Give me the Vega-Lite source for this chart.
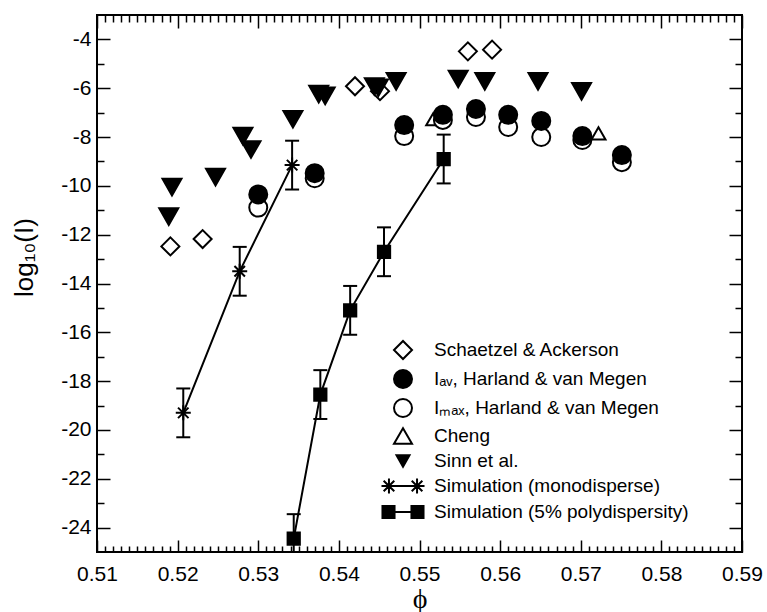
{
  "$schema": "https://vega.github.io/schema/vega-lite/v6.json",
  "autosize": {"type": "none"},
  "width": 645,
  "height": 537,
  "padding": {"left": 97, "top": 15, "right": 25, "bottom": 60},
  "background": "white",
  "config": {
    "view": {"stroke": "black", "strokeWidth": 2},
    "axis": {"domain": false, "grid": false, "tickColor": "black", "tickWidth": 1.5, "zindex": 1, "labelColor": "black", "titleColor": "black", "labelFont": "Liberation Sans", "titleFont": "Liberation Sans", "titleFontWeight": "normal"}
  },
  "datasets": {
    "pts": [
      {"s": "Schaetzel & Ackerson", "phi": 0.5191, "v": -12.48},
      {"s": "Schaetzel & Ackerson", "phi": 0.5231, "v": -12.18},
      {"s": "Schaetzel & Ackerson", "phi": 0.5420, "v": -5.92},
      {"s": "Schaetzel & Ackerson", "phi": 0.5451, "v": -6.12},
      {"s": "Schaetzel & Ackerson", "phi": 0.5560, "v": -4.49},
      {"s": "Schaetzel & Ackerson", "phi": 0.5590, "v": -4.42},
      {"s": "Sinn et al.", "phi": 0.5193, "v": -10.05},
      {"s": "Sinn et al.", "phi": 0.5189, "v": -11.26},
      {"s": "Sinn et al.", "phi": 0.5247, "v": -9.64},
      {"s": "Sinn et al.", "phi": 0.5281, "v": -7.96},
      {"s": "Sinn et al.", "phi": 0.5291, "v": -8.51},
      {"s": "Sinn et al.", "phi": 0.5343, "v": -7.27},
      {"s": "Sinn et al.", "phi": 0.5375, "v": -6.24},
      {"s": "Sinn et al.", "phi": 0.5383, "v": -6.31},
      {"s": "Sinn et al.", "phi": 0.5444, "v": -5.93},
      {"s": "Sinn et al.", "phi": 0.5449, "v": -5.98},
      {"s": "Sinn et al.", "phi": 0.5471, "v": -5.72},
      {"s": "Sinn et al.", "phi": 0.5548, "v": -5.62},
      {"s": "Sinn et al.", "phi": 0.5581, "v": -5.72},
      {"s": "Sinn et al.", "phi": 0.5647, "v": -5.72},
      {"s": "Sinn et al.", "phi": 0.5701, "v": -6.13},
      {"s": "Cheng", "phi": 0.5517, "v": -7.27},
      {"s": "Cheng", "phi": 0.5722, "v": -7.85},
      {"s": "Iₘₐₓ, Harland & van Megen", "phi": 0.5300, "v": -10.89},
      {"s": "Iₘₐₓ, Harland & van Megen", "phi": 0.5370, "v": -9.69},
      {"s": "Iₘₐₓ, Harland & van Megen", "phi": 0.5481, "v": -7.96},
      {"s": "Iₘₐₓ, Harland & van Megen", "phi": 0.5529, "v": -7.30},
      {"s": "Iₘₐₓ, Harland & van Megen", "phi": 0.5570, "v": -7.18},
      {"s": "Iₘₐₓ, Harland & van Megen", "phi": 0.5610, "v": -7.59},
      {"s": "Iₘₐₓ, Harland & van Megen", "phi": 0.5651, "v": -8.00},
      {"s": "Iₘₐₓ, Harland & van Megen", "phi": 0.5702, "v": -8.12},
      {"s": "Iₘₐₓ, Harland & van Megen", "phi": 0.5751, "v": -9.03},
      {"s": "Iₐᵥ, Harland & van Megen", "phi": 0.5300, "v": -10.35},
      {"s": "Iₐᵥ, Harland & van Megen", "phi": 0.5370, "v": -9.48},
      {"s": "Iₐᵥ, Harland & van Megen", "phi": 0.5481, "v": -7.51},
      {"s": "Iₐᵥ, Harland & van Megen", "phi": 0.5529, "v": -7.09},
      {"s": "Iₐᵥ, Harland & van Megen", "phi": 0.5570, "v": -6.85},
      {"s": "Iₐᵥ, Harland & van Megen", "phi": 0.5610, "v": -7.09},
      {"s": "Iₐᵥ, Harland & van Megen", "phi": 0.5651, "v": -7.34},
      {"s": "Iₐᵥ, Harland & van Megen", "phi": 0.5702, "v": -7.96},
      {"s": "Iₐᵥ, Harland & van Megen", "phi": 0.5751, "v": -8.74},
      {"s": "Simulation (monodisperse)", "phi": 0.5207, "v": -19.3, "lo": -20.3, "hi": -18.3},
      {"s": "Simulation (monodisperse)", "phi": 0.5277, "v": -13.5, "lo": -14.5, "hi": -12.5},
      {"s": "Simulation (monodisperse)", "phi": 0.5342, "v": -9.15, "lo": -10.15, "hi": -8.15},
      {"s": "Simulation (5% polydispersity)", "phi": 0.5344, "v": -24.45, "lo": -25.45, "hi": -23.45},
      {"s": "Simulation (5% polydispersity)", "phi": 0.5377, "v": -18.55, "lo": -19.55, "hi": -17.55},
      {"s": "Simulation (5% polydispersity)", "phi": 0.5414, "v": -15.1, "lo": -16.1, "hi": -14.1},
      {"s": "Simulation (5% polydispersity)", "phi": 0.5456, "v": -12.7, "lo": -13.7, "hi": -11.7},
      {"s": "Simulation (5% polydispersity)", "phi": 0.5530, "v": -8.9, "lo": -9.9, "hi": -7.9}
    ]
  },
  "data": {"name": "pts"},
  "layer": [
    {
      "transform": [{"filter": "isValid(datum.lo)"}],
      "mark": {"type": "rule", "color": "black", "strokeWidth": 2},
      "encoding": {
        "x": {"field": "phi", "type": "quantitative", "scale": {"domain": [0.51, 0.59], "nice": false, "zero": false},
          "axis": {"orient": "top", "labels": false, "title": null, "tickSize": 7, "offset": -7,
            "values": [0.511,0.512,0.513,0.514,0.515,0.516,0.517,0.518,0.519,0.521,0.522,0.523,0.524,0.525,0.526,0.527,0.528,0.529,0.531,0.532,0.533,0.534,0.535,0.536,0.537,0.538,0.539,0.541,0.542,0.543,0.544,0.545,0.546,0.547,0.548,0.549,0.551,0.552,0.553,0.554,0.555,0.556,0.557,0.558,0.559,0.561,0.562,0.563,0.564,0.565,0.566,0.567,0.568,0.569,0.571,0.572,0.573,0.574,0.575,0.576,0.577,0.578,0.579,0.581,0.582,0.583,0.584,0.585,0.586,0.587,0.588,0.589]}},
        "y": {"field": "lo", "type": "quantitative", "scale": {"domain": [-25, -3], "nice": false, "zero": false, "clamp": true},
          "axis": {"orient": "right", "labels": false, "title": null, "tickSize": 7, "offset": -7, "values": [-23, -21, -19, -17, -15, -13, -11, -9, -7, -5]}},
        "y2": {"field": "hi"}
      }
    },
    {
      "transform": [{"filter": "isValid(datum.lo) && datum.lo > -25"}],
      "mark": {"type": "tick", "orient": "horizontal", "color": "black", "size": 14, "thickness": 2, "opacity": 1},
      "encoding": {
        "x": {"field": "phi", "type": "quantitative", "axis": null},
        "y": {"field": "lo", "type": "quantitative", "axis": null}
      }
    },
    {
      "transform": [{"filter": "isValid(datum.hi)"}],
      "mark": {"type": "tick", "orient": "horizontal", "color": "black", "size": 14, "thickness": 2, "opacity": 1},
      "encoding": {
        "x": {"field": "phi", "type": "quantitative", "axis": null},
        "y": {"field": "hi", "type": "quantitative", "axis": null}
      }
    },
    {
      "transform": [{"filter": "isValid(datum.lo)"}],
      "mark": {"type": "line", "color": "black", "strokeWidth": 2},
      "encoding": {
        "x": {"field": "phi", "type": "quantitative",
          "axis": {"orient": "bottom", "tickSize": 12, "offset": -12, "values": [0.51, 0.52, 0.53, 0.54, 0.55, 0.56, 0.57, 0.58, 0.59], "format": ".2f",
            "labelFontSize": 21, "labelPadding": 11, "labelFlush": false, "labelOverlap": false,
            "title": "ϕ", "titleFont": "Liberation Serif", "titleFontSize": 28, "titleY": 67, "titleBaseline": "alphabetic"}},
        "y": {"field": "v", "type": "quantitative",
          "axis": {"orient": "left", "tickSize": 13, "offset": -13, "values": [-24, -22, -20, -18, -16, -14, -12, -10, -8, -6, -4],
            "labelExpr": "replace(datum.label, '\u2212', '-')", "labelFontSize": 21, "labelPadding": 6, "labelFlush": false, "labelOverlap": false,
            "title": "log₁₀(I)", "titleFontSize": 26, "titleX": -86, "titleY": 242, "titleBaseline": "middle", "titleAlign": "center", "titleAngle": -90}},
        "detail": {"field": "s", "type": "nominal"}
      }
    },
    {
      "transform": [{"filter": "!isValid(datum.lo)"}],
      "mark": {"type": "point", "strokeWidth": 2, "opacity": 1, "filled": false},
      "encoding": {
        "x": {"field": "phi", "type": "quantitative",
          "axis": {"orient": "top", "labels": false, "title": null, "tickSize": 13, "offset": -13, "values": [0.51, 0.52, 0.53, 0.54, 0.55, 0.56, 0.57, 0.58, 0.59]}},
        "y": {"field": "v", "type": "quantitative",
          "axis": {"orient": "right", "labels": false, "title": null, "tickSize": 13, "offset": -13, "values": [-24, -22, -20, -18, -16, -14, -12, -10, -8, -6, -4]}},
        "shape": {"field": "s", "type": "nominal",
          "scale": {
            "domain": ["Schaetzel & Ackerson", "Iₐᵥ, Harland & van Megen", "Iₘₐₓ, Harland & van Megen", "Cheng", "Sinn et al.", "Simulation (monodisperse)", "Simulation (5% polydispersity)"],
            "range": ["diamond", "circle", "circle", "triangle-up", "M-0.72,-0.63L0.72,-0.63L0,0.63Z",
              "M-1.56,0L1.56,0M-1.56,-0.83L-1.56,0.83M-2.39,0L-0.73,0M-2.15,-0.59L-0.97,0.59M-2.15,0.59L-0.97,-0.59M1.56,-0.83L1.56,0.83M0.73,0L2.39,0M0.97,-0.59L2.15,0.59M0.97,0.59L2.15,-0.59",
              "M-2.28,-0.67L-0.94,-0.67L-0.94,0.67L-2.28,0.67ZM0.94,-0.67L2.28,-0.67L2.28,0.67L0.94,0.67ZM-0.94,0L0.94,0"]
          },
          "legend": {"orient": "none", "legendX": 296, "legendY": 325, "title": null, "padding": 0,
            "labelFont": "Liberation Sans", "labelFontSize": 19, "labelColor": "black", "labelOffset": 21, "labelLimit": 0, "rowPadding": 3,
            "symbolSize": 324, "symbolStrokeWidth": 2, "symbolOpacity": 1}
        },
        "fill": {"field": "s", "type": "nominal",
          "scale": {
            "domain": ["Schaetzel & Ackerson", "Iₐᵥ, Harland & van Megen", "Iₘₐₓ, Harland & van Megen", "Cheng", "Sinn et al.", "Simulation (monodisperse)", "Simulation (5% polydispersity)"],
            "range": ["white", "black", "white", "white", "black", "black", "black"]
          },
          "legend": {"orient": "none", "legendX": 296, "legendY": 325, "title": null, "padding": 0,
            "labelFont": "Liberation Sans", "labelFontSize": 19, "labelColor": "black", "labelOffset": 21, "labelLimit": 0, "rowPadding": 3,
            "symbolSize": 324, "symbolStrokeWidth": 2, "symbolOpacity": 1}
        },
        "stroke": {"field": "s", "type": "nominal",
          "scale": {
            "domain": ["Schaetzel & Ackerson", "Iₐᵥ, Harland & van Megen", "Iₘₐₓ, Harland & van Megen", "Cheng", "Sinn et al.", "Simulation (monodisperse)", "Simulation (5% polydispersity)"],
            "range": ["black", "black", "black", "black", "black", "black", "black"]
          },
          "legend": {"orient": "none", "legendX": 296, "legendY": 325, "title": null, "padding": 0,
            "labelFont": "Liberation Sans", "labelFontSize": 19, "labelColor": "black", "labelOffset": 21, "labelLimit": 0, "rowPadding": 3,
            "symbolSize": 324, "symbolStrokeWidth": 2, "symbolOpacity": 1}
        },
        "size": {
          "condition": [
            {"test": "datum.s === 'Cheng'", "value": 196},
            {"test": "datum.s === 'Sinn et al.'", "value": 697}
          ],
          "value": 324
        }
      }
    },
    {
      "transform": [{"filter": "isValid(datum.lo)"}],
      "mark": {"type": "point", "stroke": "black", "fill": "black", "strokeWidth": 2, "opacity": 1, "filled": false},
      "encoding": {
        "x": {"field": "phi", "type": "quantitative",
          "axis": {"orient": "bottom", "labels": false, "title": null, "tickSize": 6, "offset": -6,
            "values": [0.511,0.512,0.513,0.514,0.515,0.516,0.517,0.518,0.519,0.521,0.522,0.523,0.524,0.525,0.526,0.527,0.528,0.529,0.531,0.532,0.533,0.534,0.535,0.536,0.537,0.538,0.539,0.541,0.542,0.543,0.544,0.545,0.546,0.547,0.548,0.549,0.551,0.552,0.553,0.554,0.555,0.556,0.557,0.558,0.559,0.561,0.562,0.563,0.564,0.565,0.566,0.567,0.568,0.569,0.571,0.572,0.573,0.574,0.575,0.576,0.577,0.578,0.579,0.581,0.582,0.583,0.584,0.585,0.586,0.587,0.588,0.589]}},
        "y": {"field": "v", "type": "quantitative",
          "axis": {"orient": "left", "labels": false, "title": null, "tickSize": 7, "offset": -7, "values": [-23, -21, -19, -17, -15, -13, -11, -9, -7, -5]}},
        "shape": {
          "condition": {"test": "datum.s === 'Simulation (monodisperse)'", "value": "M0,-1L0,1M-1,0L1,0M-0.7,-0.7L0.7,0.7M-0.7,0.7L0.7,-0.7"},
          "value": "square"
        },
        "size": {
          "condition": {"test": "datum.s === 'Simulation (monodisperse)'", "value": 225},
          "value": 150
        }
      }
    }
  ],
  "resolve": {"axis": {"x": "independent", "y": "independent"}}
}
